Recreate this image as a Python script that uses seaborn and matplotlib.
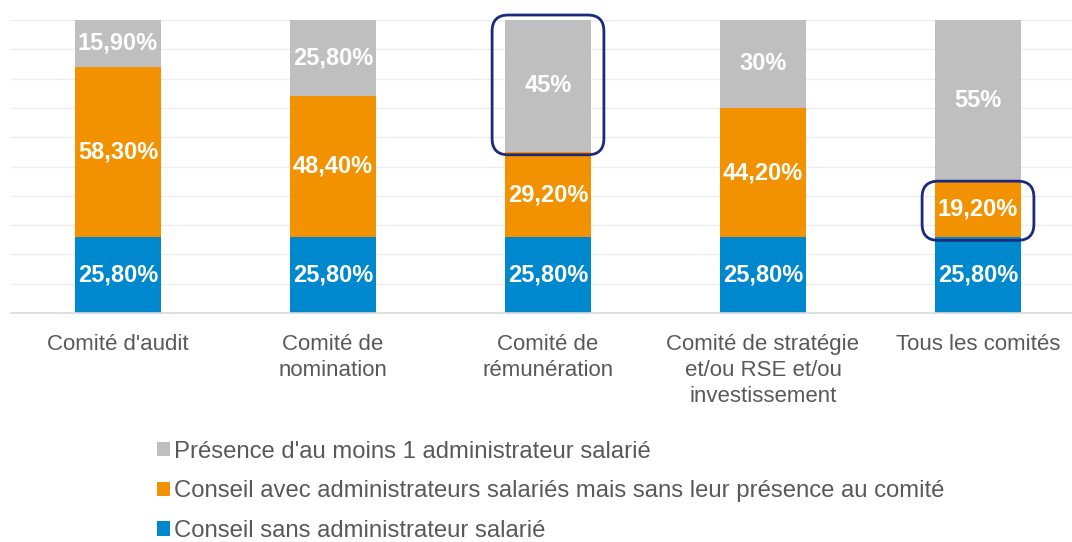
import matplotlib
matplotlib.use("Agg")
import matplotlib.pyplot as plt
from matplotlib.patches import FancyBboxPatch, Patch
import numpy as np
import pandas as pd
import seaborn as sns

categories = [
    "Comité d'audit",
    "Comité de\nnomination",
    "Comité de\nrémunération",
    "Comité de stratégie\net/ou RSE et/ou\ninvestissement",
    "Tous les comités",
]
sans_salarie = [25.8, 25.8, 25.8, 25.8, 25.8]
avec_salaries = [58.3, 48.4, 29.2, 44.2, 19.2]
presence = [15.9, 25.8, 45.0, 30.0, 55.0]
value_labels = {
    "sans": ["25,80%"] * 5,
    "avec": ["58,30%", "48,40%", "29,20%", "44,20%", "19,20%"],
    "presence": ["15,90%", "25,80%", "45%", "30%", "55%"],
}
series_names = {
    "presence": "Présence d'au moins 1 administrateur salarié",
    "avec": "Conseil avec administrateurs salariés mais sans leur présence au comité",
    "sans": "Conseil sans administrateur salarié",
}
# segments outlined in the original: (category index, series)
highlights = [(2, "presence"), (4, "avec")]

colors = {"sans": "#0088CE", "avec": "#F39200", "presence": "#BFBFBF"}

sns.set_style("white")
plt.rcParams["font.family"] = ["Liberation Sans", "DejaVu Sans"]

df = pd.DataFrame({
    "cat": categories,
    "sans": sans_salarie,
    "avec": avec_salaries,
    "presence": presence,
})
df["top_sans"] = df["sans"]
df["top_avec"] = df["sans"] + df["avec"]
df["top_presence"] = df["sans"] + df["avec"] + df["presence"]

fig = plt.figure(figsize=(10.72, 5.42), dpi=100)
ax = fig.add_axes([10.5 / 1072, 1 - 313 / 542, 1 - 10.5 / 1072, 293 / 542])

# stacked bars: draw cumulative totals back to front
for key in ["presence", "avec", "sans"]:
    sns.barplot(data=df, x="cat", y=f"top_{key}", order=categories,
                color=colors[key], saturation=1, width=0.4,
                edgecolor="none", linewidth=0, ax=ax, zorder=2)

ax.set_xlim(-0.5, (1072 - 118) / 215)
ax.set_ylim(0, 100)
ax.set_yticks(np.arange(0, 101, 10))
ax.set_yticklabels([])
ax.tick_params(axis="y", length=0)
ax.grid(axis="y", color="#EDEDED", linewidth=1, zorder=0)
ax.set_axisbelow(True)
for s in ["top", "left", "right"]:
    ax.spines[s].set_visible(False)
ax.spines["bottom"].set_color("#D9D9D9")
ax.spines["bottom"].set_linewidth(1.2)
ax.set_xlabel("")
ax.set_ylabel("")
ax.tick_params(axis="x", length=0, pad=15, labelsize=16, labelcolor="#595959")
for t in ax.get_xticklabels():
    t.set_linespacing(1.32)

for i in range(len(categories)):
    for key in ["sans", "avec", "presence"]:
        top = df[f"top_{key}"][i]
        val = df[key][i]
        ax.text(i, top - val / 2, value_labels[key][i], ha="center", va="center",
                color="white", fontsize=17, fontweight="bold", zorder=4)

# rounded outline boxes around highlighted segments
fig.canvas.draw()
p0 = ax.transData.transform((0, 0))
p1 = ax.transData.transform((1, 1))
aspect = (p1[0] - p0[0]) / (p1[1] - p0[1])
pad_x = 0.06
for i, key in highlights:
    top = df[f"top_{key}"][i]
    bottom = top - df[key][i]
    x0 = i - 0.2 - pad_x
    extra = 1.7 if key == "presence" else 0
    box = FancyBboxPatch((x0, bottom - 1.0), 0.4 + 2 * pad_x, top - bottom + 1.0 + extra,
                         boxstyle="round,pad=0,rounding_size=0.075",
                         mutation_aspect=aspect, transform=ax.transData,
                         facecolor="none", edgecolor="#1B2A7E", linewidth=2,
                         zorder=5, clip_on=False)
    ax.add_patch(box)

handles = [Patch(facecolor=colors[k], edgecolor="none") for k in ["presence", "avec", "sans"]]
fig.legend(handles, [series_names[k] for k in ["presence", "avec", "sans"]],
           loc="upper left", bbox_to_anchor=(147 / 1072, 1 - 431 / 542),
           frameon=False, fontsize=17.2, labelcolor="#595959",
           handlelength=0.55, handleheight=0.55, handletextpad=0.2,
           labelspacing=0.74, borderaxespad=0)

fig.savefig("out.png", dpi=100)
